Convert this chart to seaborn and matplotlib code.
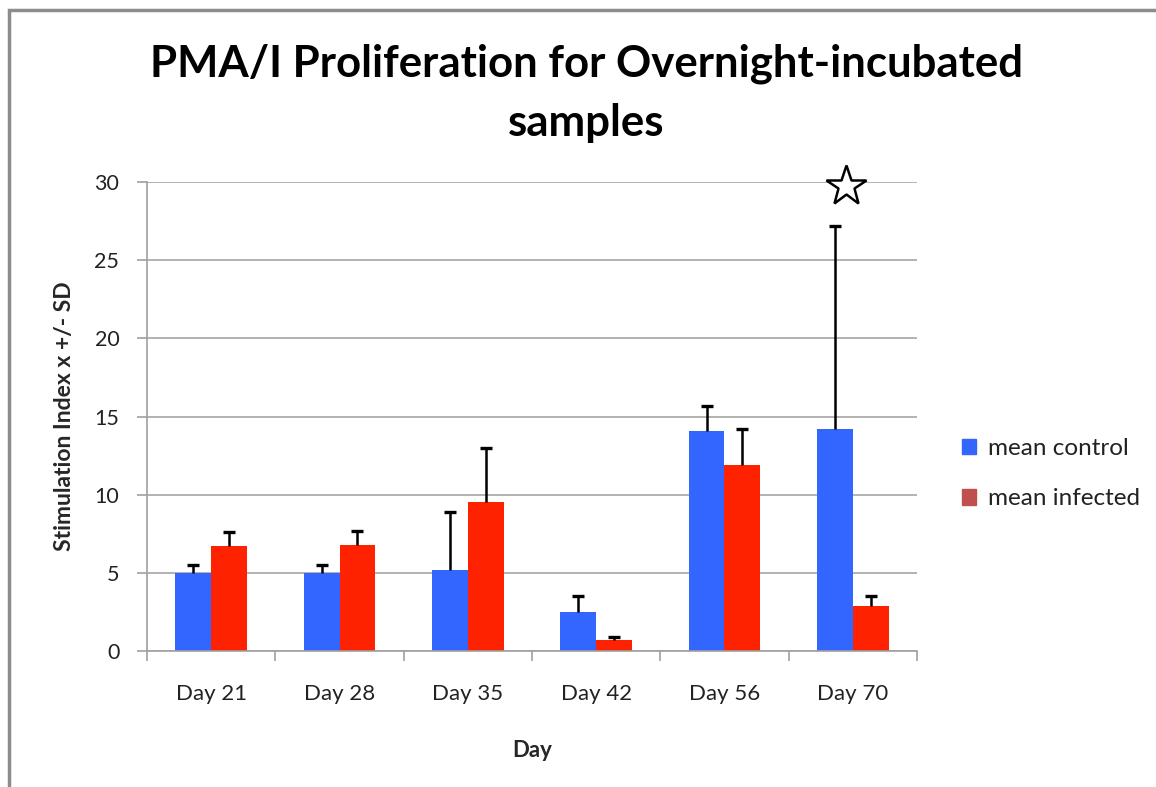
import matplotlib
matplotlib.use('Agg')
import matplotlib.pyplot as plt
import matplotlib.patches as mpatches
import numpy as np
import pandas as pd
import seaborn as sns

days = ['Day 21', 'Day 28', 'Day 35', 'Day 42', 'Day 56', 'Day 70']
control_mean = [5.0, 5.0, 5.2, 2.5, 14.1, 14.2]
control_sd = [0.5, 0.5, 3.7, 1.0, 1.6, 13.0]
infected_mean = [6.7, 6.8, 9.5, 0.7, 11.9, 2.9]
infected_sd = [0.9, 0.9, 3.5, 0.2, 2.3, 0.6]
star_day = 'Day 70'
star_value = 29.75

series_names = ['mean control', 'mean infected']
bar_colors = ['#3366FF', '#FF2200']
legend_colors = ['#3366FF', '#C0504D']

df = pd.DataFrame({
    'Day': days * 2,
    'Series': [series_names[0]] * len(days) + [series_names[1]] * len(days),
    'Value': control_mean + infected_mean,
})

sns.set_style('white')
plt.rcParams['font.family'] = ['Lato', 'DejaVu Sans']
plt.rcParams['text.color'] = 'black'

fig = plt.figure(figsize=(11.56, 7.87), dpi=100)
ax = fig.add_axes([0.1272, 0.1728, 0.666, 0.5959])

sns.barplot(data=df, x='Day', y='Value', hue='Series', order=days,
            hue_order=series_names, palette=bar_colors, width=0.56,
            gap=0, errorbar=None, saturation=1, linewidth=0, ax=ax,
            legend=False)

# upward-only SD error bars
for cont, sd in zip(ax.containers, [control_sd, infected_sd]):
    xs = [b.get_x() + b.get_width() / 2 for b in cont]
    ys = [b.get_height() for b in cont]
    eb = ax.errorbar(xs, ys, yerr=[np.zeros(len(sd)), sd], fmt='none',
                     ecolor='black', elinewidth=1.8, capsize=4.5,
                     capthick=2.4, zorder=4)
    eb[1][0].set_visible(False)

# significance star
sx = days.index(star_day) - 0.05
ax.plot([sx], [star_value], marker='*', markersize=30, markerfacecolor='white',
        markeredgecolor='black', markeredgewidth=1.8, clip_on=False, zorder=5)

ax.set_xlim(-0.5, len(days) - 0.5)
ax.set_ylim(0, 30)
ax.set_yticks(range(0, 31, 5))
ax.yaxis.grid(True, color='#A6A6A6', linewidth=1.2)
ax.set_axisbelow(True)

for s in ['top', 'right']:
    ax.spines[s].set_visible(False)
for s in ['left', 'bottom']:
    ax.spines[s].set_color('#A0A0A0')
    ax.spines[s].set_linewidth(1.2)

ax.set_xticks(np.arange(-0.5, len(days), 1.0), minor=True)
ax.tick_params(axis='x', which='major', length=0, pad=24, labelsize=16,
               labelcolor='#222222')
ax.tick_params(axis='x', which='minor', length=7, width=1.2, color='#A0A0A0',
               direction='out', bottom=True)
ax.tick_params(axis='y', which='major', length=7, width=1.2, color='#A0A0A0',
               direction='out', left=True, pad=13, labelsize=15.5,
               labelcolor='#222222')

ax.set_xlabel('Day', fontsize=16, fontweight='bold', labelpad=26)
ax.set_ylabel('Stimulation Index x +/- SD', fontsize=16.5, fontweight='bold',
              labelpad=14)

fig.text(0.507, 0.881, 'PMA/I Proliferation for Overnight-incubated\nsamples',
         ha='center', va='center', fontsize=31.5, fontweight='bold',
         linespacing=1.58)

handles = [mpatches.Patch(color=c, label=n)
           for c, n in zip(legend_colors, series_names)]
fig.legend(handles=handles, loc='center left', bbox_to_anchor=(0.813, 0.398),
           frameon=False, fontsize=17.5, handlelength=0.6, handleheight=0.6,
           handletextpad=0.5, labelspacing=1.2, labelcolor='#222222')

# outer chart-area frame
fig.patches.append(mpatches.Rectangle((9 / 1156, -0.05), 1.2, 1 - 10 / 787 + 0.05,
                                      transform=fig.transFigure, fill=False,
                                      edgecolor='#8C8C8C', linewidth=2.5))

fig.savefig('out.png', dpi=100)
